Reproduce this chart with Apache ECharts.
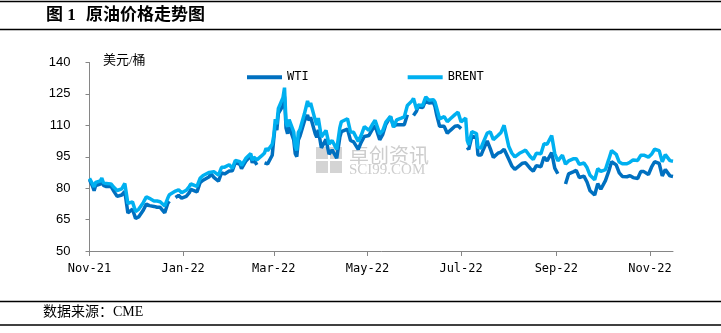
<!DOCTYPE html>
<html>
<head>
<meta charset="utf-8">
<script src="https://cdn.jsdelivr.net/npm/echarts@6/dist/echarts.min.js"></script>
<style>
  html, body { margin: 0; padding: 0; background: #fff; }
  #chart { width: 721px; height: 333px; }
</style>
</head>
<body>
<div id="chart"></div>
<script>
// Trading dates (sampled) and settlement prices, USD/bbl
const dates = [
  '2021-11-01','2021-11-03','2021-11-04','2021-11-05','2021-11-08','2021-11-09','2021-11-10','2021-11-12','2021-11-15','2021-11-17','2021-11-19','2021-11-22','2021-11-24','2021-11-26','2021-11-29',
  '2021-12-01','2021-12-03','2021-12-06','2021-12-08','2021-12-10','2021-12-13','2021-12-15','2021-12-17','2021-12-20','2021-12-22','2021-12-23','2021-12-24','2021-12-27','2021-12-29','2021-12-31',
  '2022-01-03','2022-01-05','2022-01-06','2022-01-07','2022-01-10','2022-01-12','2022-01-14','2022-01-18','2022-01-19','2022-01-21','2022-01-24','2022-01-26','2022-01-28','2022-01-31',
  '2022-02-02','2022-02-04','2022-02-07','2022-02-08','2022-02-09','2022-02-11','2022-02-14','2022-02-15','2022-02-16','2022-02-18','2022-02-21','2022-02-23','2022-02-24','2022-02-25','2022-02-28',
  '2022-03-01','2022-03-02','2022-03-03','2022-03-04','2022-03-07','2022-03-08','2022-03-09','2022-03-10','2022-03-11','2022-03-14','2022-03-15','2022-03-16','2022-03-17','2022-03-18','2022-03-21','2022-03-23','2022-03-24','2022-03-25','2022-03-28','2022-03-29','2022-03-30',
  '2022-04-01','2022-04-04','2022-04-06','2022-04-07','2022-04-08','2022-04-11','2022-04-13','2022-04-14','2022-04-18','2022-04-20','2022-04-22','2022-04-25','2022-04-27','2022-04-29',
  '2022-05-02','2022-05-04','2022-05-06','2022-05-09','2022-05-11','2022-05-13','2022-05-16','2022-05-18','2022-05-20','2022-05-23','2022-05-25','2022-05-27','2022-05-30','2022-05-31',
  '2022-06-02','2022-06-03','2022-06-06','2022-06-08','2022-06-10','2022-06-13','2022-06-14','2022-06-15','2022-06-17','2022-06-20','2022-06-22','2022-06-24','2022-06-27','2022-06-29',
  '2022-07-01','2022-07-04','2022-07-05','2022-07-06','2022-07-08','2022-07-11','2022-07-12','2022-07-14','2022-07-15','2022-07-18','2022-07-20','2022-07-22','2022-07-25','2022-07-27','2022-07-29',
  '2022-08-01','2022-08-03','2022-08-05','2022-08-08','2022-08-10','2022-08-12','2022-08-15','2022-08-17','2022-08-19','2022-08-22','2022-08-24','2022-08-26','2022-08-29','2022-08-31',
  '2022-09-02','2022-09-05','2022-09-07','2022-09-09','2022-09-12','2022-09-14','2022-09-16','2022-09-19','2022-09-21','2022-09-23','2022-09-26','2022-09-28','2022-09-30',
  '2022-10-03','2022-10-05','2022-10-07','2022-10-10','2022-10-12','2022-10-14','2022-10-17','2022-10-19','2022-10-21','2022-10-24','2022-10-26','2022-10-28','2022-10-31',
  '2022-11-02','2022-11-04','2022-11-07','2022-11-09','2022-11-11','2022-11-14','2022-11-16'
];

// null = no settlement that day (line breaks)
const wti = [
  84.05,80.86,78.81,81.27,81.93,84.15,81.34,80.79,80.88,78.36,76.10,76.75,78.39,68.15,69.95,
  65.57,66.26,69.49,72.36,71.67,71.29,70.87,70.86,68.23,72.76,73.79,null,75.57,76.56,75.21,
  76.08,77.85,79.46,78.90,78.23,82.64,83.82,85.43,86.96,85.14,83.31,87.35,86.82,88.15,
  88.26,92.31,91.32,89.36,89.66,93.10,95.46,92.07,93.66,91.07,null,92.10,92.81,91.59,95.72,
  103.41,110.60,107.67,115.68,119.40,123.70,108.70,106.02,109.33,103.01,96.44,95.04,102.98,104.70,112.12,114.93,112.34,113.90,105.96,104.24,107.82,
  99.27,103.28,96.23,96.03,98.26,94.29,104.25,106.95,108.21,102.75,102.07,98.54,102.02,104.69,
  105.17,107.81,109.77,103.09,105.71,110.49,114.20,109.59,110.28,110.29,110.33,115.07,null,114.67,
  116.87,118.87,118.50,122.11,120.67,120.93,118.93,115.31,109.56,109.52,106.19,107.62,109.57,109.78,
  108.43,null,99.50,98.53,104.79,104.09,95.84,95.78,97.59,102.60,98.88,94.70,96.70,97.26,98.62,
  93.89,90.66,89.01,90.76,91.93,92.09,89.41,88.11,90.77,90.23,94.89,93.06,97.01,89.55,
  86.87,null,81.94,86.79,87.78,88.48,85.11,85.73,82.94,78.74,76.71,82.15,79.49,
  83.63,87.76,92.64,91.13,87.27,85.61,85.46,85.98,85.05,84.58,87.91,87.90,86.53,
  90.00,92.61,91.79,85.83,88.96,85.87,85.59
];

const brent = [
  84.71,81.99,80.54,82.74,83.43,84.78,82.64,82.17,82.05,80.28,78.89,79.70,82.25,72.72,73.44,
  68.87,69.88,73.08,75.82,75.15,73.90,73.88,73.52,71.52,75.29,76.85,null,78.60,79.23,77.78,
  78.98,80.80,81.99,81.75,80.87,84.67,86.06,87.51,88.44,87.89,86.27,89.96,90.03,91.21,
  89.47,93.27,92.69,90.78,91.55,94.44,96.48,93.28,94.81,93.54,95.39,96.84,99.08,97.93,100.99,
  104.97,112.93,110.46,118.11,123.21,127.98,111.14,109.33,112.67,106.90,99.91,98.02,106.64,107.93,115.62,121.60,119.03,120.65,112.48,110.23,113.45,
  104.39,107.53,101.07,100.58,102.78,98.48,108.78,111.70,113.16,106.80,106.65,102.32,105.32,109.34,
  107.58,110.14,112.39,105.94,107.51,111.55,114.24,109.11,112.55,113.42,114.03,119.43,121.67,122.84,
  117.61,119.72,119.51,123.58,122.01,122.27,121.17,118.51,113.12,114.13,111.74,113.12,115.09,116.26,
  111.63,113.50,102.77,100.69,107.02,106.10,99.49,99.10,101.16,106.27,106.92,103.20,105.15,106.62,110.01,
  100.03,96.78,94.92,96.65,97.40,98.15,95.10,93.65,96.72,96.48,101.22,100.99,105.09,96.49,
  93.02,95.74,91.50,93.00,94.00,94.10,91.35,92.00,89.83,86.15,84.06,89.32,87.96,
  88.86,93.37,97.92,96.19,92.45,91.63,91.62,92.41,93.50,93.26,95.69,95.77,94.83,
  96.16,98.57,97.92,92.65,95.99,93.14,92.86
];

// Bi-monthly axis ticks and their labels
const tickDates = ['2021-11-01','2022-01-01','2022-03-01','2022-05-01','2022-07-01','2022-09-01','2022-11-01'];
const tickLabels = ['Nov-21','Jan-22','Mar-22','May-22','Jul-22','Sep-22','Nov-22'];
const axisStart = '2021-11-01';
const axisEnd = '2022-11-16';

const seriesNames = ['WTI', 'BRENT'];
const seriesColors = ['#0070C0', '#00B0F0'];

// dates are placed on a day-count scale (days since axisStart)
const DAY = 86400000;
function toDay(s) {
  const p = s.split('-').map(Number);
  const q = axisStart.split('-').map(Number);
  return Math.round((Date.UTC(p[0], p[1] - 1, p[2]) - Date.UTC(q[0], q[1] - 1, q[2])) / DAY);
}

const tickDays = tickDates.map(toDay);
const wtiData = dates.map((d, i) => [toDay(d), wti[i] === null ? '-' : wti[i]]);
const brentData = dates.map((d, i) => [toDay(d), brent[i] === null ? '-' : brent[i]]);

const serifCJK = '"Liberation Serif", "Noto Sans CJK SC", serif';
const mono = '"DejaVu Sans Mono", monospace';

const chart = echarts.init(document.getElementById('chart'), null, { renderer: 'canvas' });

chart.setOption({
  animation: false,
  backgroundColor: '#ffffff',
  grid: { left: 89.5, right: 48, top: 62.5, bottom: 82 },
  legend: {
    data: seriesNames,
    left: 242,
    top: 66.3,
    icon: 'rect',
    itemWidth: 35,
    itemHeight: 4,
    itemGap: 99,
    textStyle: { fontFamily: mono, fontSize: 12, color: '#000' }
  },
  xAxis: {
    type: 'value',
    min: toDay(axisStart),
    max: toDay(axisEnd),
    splitLine: { show: false },
    axisLine: { lineStyle: { color: '#868686', width: 1 } },
    axisTick: {
      show: true,
      customValues: tickDays,
      length: 5,
      lineStyle: { color: '#868686' }
    },
    axisLabel: {
      customValues: tickDays,
      margin: 12,
      fontFamily: mono,
      fontSize: 12,
      color: '#000',
      formatter: function (v) {
        const i = tickDays.indexOf(v);
        return i >= 0 ? tickLabels[i] : '';
      }
    }
  },
  yAxis: {
    type: 'value',
    min: 50,
    max: 140,
    interval: 15,
    splitLine: { show: false },
    axisLine: { show: true, lineStyle: { color: '#868686', width: 1 } },
    axisTick: { show: true, length: 4, lineStyle: { color: '#868686' } },
    axisLabel: {
      margin: 19,
      fontFamily: '"Liberation Sans", Arial, sans-serif',
      fontSize: 13,
      color: '#000'
    }
  },
  series: [
    {
      name: seriesNames[0],
      type: 'line',
      data: wtiData,
      showSymbol: false,
      connectNulls: false,
      color: seriesColors[0],
      lineStyle: { width: 3.5, color: seriesColors[0] },
      emphasis: { disabled: true },
      z: 3
    },
    {
      name: seriesNames[1],
      type: 'line',
      data: brentData,
      showSymbol: false,
      connectNulls: true,
      color: seriesColors[1],
      lineStyle: { width: 3.5, color: seriesColors[1] },
      emphasis: { disabled: true },
      z: 4
    }
  ],
  graphic: [
    // report frame rules
    { type: 'line', shape: { x1: 0, y1: 1.5, x2: 721, y2: 1.5 }, style: { stroke: '#000', lineWidth: 1.5 } },
    { type: 'line', shape: { x1: 0, y1: 29.5, x2: 721, y2: 29.5 }, style: { stroke: '#000', lineWidth: 1.5 } },
    { type: 'line', shape: { x1: 0, y1: 301.5, x2: 721, y2: 301.5 }, style: { stroke: '#000', lineWidth: 1.5 } },
    { type: 'line', shape: { x1: 0, y1: 325, x2: 721, y2: 325 }, style: { stroke: '#000', lineWidth: 1.5 } },
    // title
    { type: 'text', left: 46, top: 7, style: { text: '图 1', font: 'bold 17px ' + serifCJK, fill: '#000' } },
    { type: 'text', left: 86, top: 7, style: { text: '原油价格走势图', font: 'bold 17px ' + serifCJK, fill: '#000' } },
    // unit
    { type: 'text', left: 103, top: 54, style: { text: '美元/桶', font: '13px ' + serifCJK, fill: '#000' } },
    // source
    { type: 'text', left: 43, top: 305, style: { text: '数据来源：CME', font: '14px ' + serifCJK, fill: '#000' } },
    // watermark
    {
      type: 'group', z: 1,
      children: [
        { type: 'rect', shape: { x: 316, y: 147, width: 12, height: 12 }, style: { fill: '#d4d4d4' } },
        { type: 'rect', shape: { x: 330, y: 147, width: 12, height: 12 }, style: { fill: '#d4d4d4' } },
        { type: 'rect', shape: { x: 316, y: 161, width: 12, height: 12 }, style: { fill: '#d4d4d4' } },
        { type: 'rect', shape: { x: 330, y: 161, width: 12, height: 12 }, style: { fill: '#d4d4d4' } },
        { type: 'text', x: 349, y: 145, style: { text: '卓创资讯', font: '20px "Noto Sans CJK SC", sans-serif', fill: '#cdcdcd' } },
        { type: 'text', x: 349, y: 163, style: { text: 'SCI99.COM', font: '15px "Liberation Serif", serif', fill: '#cdcdcd' } }
      ]
    }
  ]
});
</script>
</body>
</html>
